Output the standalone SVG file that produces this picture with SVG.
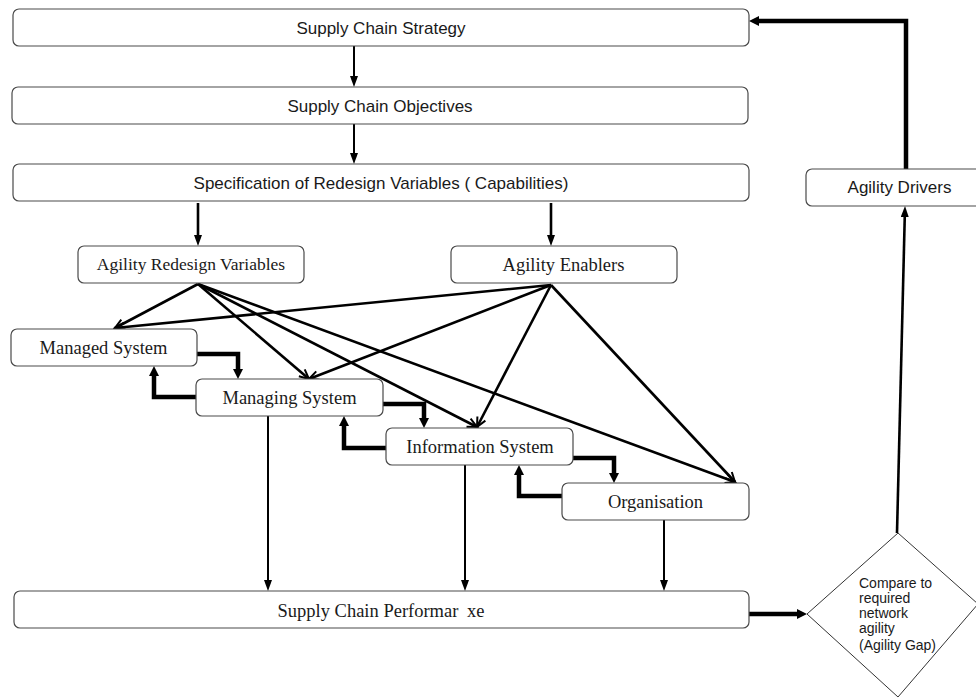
<svg xmlns="http://www.w3.org/2000/svg" width="976" height="698" viewBox="0 0 976 698">
  <style>
    .box { fill: #ffffff; stroke: #4a4a4a; stroke-width: 1.2; }
    .sans { font-family: "Liberation Sans", Arial, sans-serif; font-size: 17px; fill: #1a1a1a; }
    .serif { font-family: "Liberation Serif", "Times New Roman", serif; font-size: 18.5px; fill: #1a1a1a; }
    .small { font-family: "Liberation Sans", Arial, sans-serif; font-size: 14px; fill: #1a1a1a; }
    .thin { fill: none; stroke: #000; stroke-width: 2; }
    .mid { fill: none; stroke: #000; stroke-width: 2.6; }
    .thick { fill: none; stroke: #000; stroke-width: 4.5; }
  </style>
  <defs>
    <marker id="tri" markerUnits="userSpaceOnUse" markerWidth="11" markerHeight="8" refX="2" refY="4" orient="auto">
      <path d="M0,0 L11,4 L0,8 z" fill="#000"/>
    </marker>
    <marker id="triBig" markerUnits="userSpaceOnUse" markerWidth="10" markerHeight="10" refX="2" refY="5" orient="auto">
      <path d="M0,0 L10,5 L0,10 z" fill="#000"/>
    </marker>
    <marker id="vee" markerUnits="userSpaceOnUse" markerWidth="12" markerHeight="12" refX="10" refY="5" orient="auto" overflow="visible">
      <path d="M0.5,0.5 L10,5 L0.5,9.5" fill="none" stroke="#000" stroke-width="2"/>
    </marker>
  </defs>

  <rect width="976" height="698" fill="#ffffff"/>

  <!-- connectors -->
  <g id="connectors">
    <!-- top chain -->
    <path class="thin" d="M354,46 V78" marker-end="url(#tri)"/>
    <path class="thin" d="M354,124 V155" marker-end="url(#tri)"/>
    <path class="mid" d="M198,203 V237" marker-end="url(#tri)"/>
    <path class="mid" d="M551,203 V237" marker-end="url(#tri)"/>

    <!-- from Agility Redesign Variables -->
    <path class="mid" d="M198,284 L115,328" marker-end="url(#vee)"/>
    <path class="mid" d="M198,284 L309,379" marker-end="url(#vee)"/>
    <path class="mid" d="M198,284 L477,427" marker-end="url(#vee)"/>
    <path class="mid" d="M198,284 L735,482" marker-end="url(#vee)"/>

    <!-- from Agility Enablers -->
    <path class="mid" d="M551,285 L115,328" marker-end="url(#vee)"/>
    <path class="mid" d="M551,285 L309,379" marker-end="url(#vee)"/>
    <path class="mid" d="M551,285 L477,427" marker-end="url(#vee)"/>
    <path class="mid" d="M551,285 L735,482" marker-end="url(#vee)"/>

    <!-- feedback loops between system layers -->
    <path class="thick" d="M197,354 H238 V371" marker-end="url(#triBig)"/>
    <path class="thick" d="M196,397 H154 V374" marker-end="url(#triBig)"/>
    <path class="thick" d="M383,404 H424 V420" marker-end="url(#triBig)"/>
    <path class="thick" d="M386,448 H344 V424" marker-end="url(#triBig)"/>
    <path class="thick" d="M573,458 H614 V475" marker-end="url(#triBig)"/>
    <path class="thick" d="M562,496 H519 V473" marker-end="url(#triBig)"/>

    <!-- down to performance -->
    <path class="thin" d="M268,416 V582" marker-end="url(#tri)"/>
    <path class="thin" d="M465,465 V582" marker-end="url(#tri)"/>
    <path class="thin" d="M664,520 V582" marker-end="url(#tri)"/>

    <!-- performance to gap check, and back up -->
    <path class="thick" d="M749,614 H799" marker-end="url(#triBig)"/>
    <path class="mid" d="M897,533 L904.8,215" marker-end="url(#tri)"/>
    <path class="thick" d="M906,169 V21 H757" marker-end="url(#triBig)"/>
  </g>

  <g id="strategy">
    <rect class="box" x="13" y="9" width="736" height="37" rx="6"/>
    <text class="sans" x="381" y="33.5" text-anchor="middle">Supply Chain Strategy</text>
  </g>
  <g id="objectives">
    <rect class="box" x="12" y="87" width="736" height="37" rx="6"/>
    <text class="sans" x="380" y="111.5" text-anchor="middle">Supply Chain Objectives</text>
  </g>
  <g id="specification">
    <rect class="box" x="13" y="164" width="736" height="37" rx="6"/>
    <text class="sans" x="381" y="188.5" text-anchor="middle">Specification of Redesign Variables ( Capabilities)</text>
  </g>
  <g id="agility-drivers">
    <rect class="box" x="806" y="169" width="180" height="37" rx="6"/>
    <text class="sans" x="899.5" y="193" text-anchor="middle">Agility Drivers</text>
  </g>
  <g id="redesign-variables">
    <rect class="box" x="78" y="246" width="226" height="37" rx="6"/>
    <text class="serif" x="191" y="270" text-anchor="middle" style="font-size:17.5px">Agility Redesign Variables</text>
  </g>
  <g id="enablers">
    <rect class="box" x="451" y="246" width="226" height="37" rx="6"/>
    <text class="serif" x="563.5" y="271" text-anchor="middle">Agility Enablers</text>
  </g>
  <g id="managed-system">
    <rect class="box" x="11" y="329" width="186" height="37" rx="6"/>
    <text class="serif" x="103.5" y="353.5" text-anchor="middle">Managed System</text>
  </g>
  <g id="managing-system">
    <rect class="box" x="196" y="379" width="187" height="37" rx="6"/>
    <text class="serif" x="289.5" y="404" text-anchor="middle">Managing System</text>
  </g>
  <g id="information-system">
    <rect class="box" x="386" y="428" width="187" height="37" rx="6"/>
    <text class="serif" x="480" y="452.5" text-anchor="middle">Information System</text>
  </g>
  <g id="organisation">
    <rect class="box" x="562" y="483" width="187" height="37" rx="6"/>
    <text class="serif" x="655.5" y="508" text-anchor="middle">Organisation</text>
  </g>
  <g id="performance">
    <rect class="box" x="14" y="591" width="735" height="37" rx="6"/>
    <text class="serif" x="381" y="617" text-anchor="middle">Supply Chain Performar <tspan dx="4">xe</tspan></text>
  </g>
  <g id="agility-gap">
    <polygon points="898,533 978,604 898,697 807,614" fill="#ffffff" stroke="#333" stroke-width="1"/>
    <text class="small" x="859" y="588">Compare to</text>
    <text class="small" x="859" y="603">required</text>
    <text class="small" x="859" y="618">network</text>
    <text class="small" x="859" y="633">agility</text>
    <text class="small" x="859" y="650">(Agility Gap)</text>
  </g>
</svg>
